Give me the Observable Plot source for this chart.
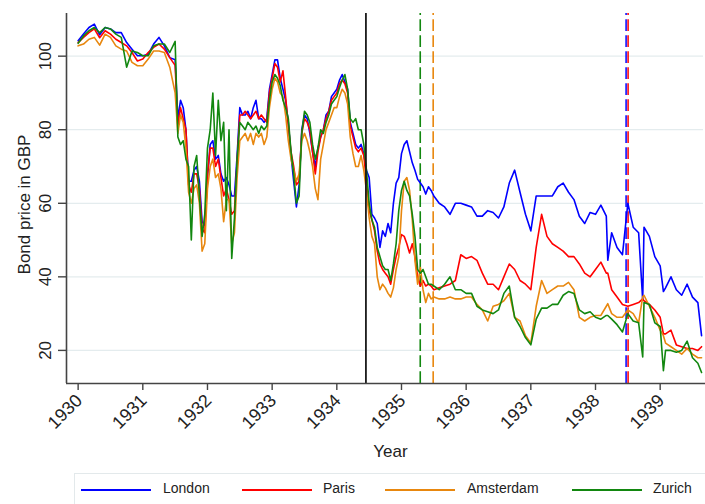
<!DOCTYPE html>
<html>
<head>
<meta charset="utf-8">
<script src="https://cdn.jsdelivr.net/npm/d3@7"></script>
<script src="https://cdn.jsdelivr.net/npm/@observablehq/plot@0.6"></script>
<style>
  html, body { margin: 0; padding: 0; background: #fff; }
  body { width: 705px; height: 504px; overflow: hidden; position: relative; font-family: "Liberation Sans", Arial, Helvetica, sans-serif; }
  #chart { position: absolute; left: 0; top: 0; }
  #legend { position: absolute; left: 74px; top: 473px; width: 660px; height: 40px; border: 1px solid #e3e9eb; box-sizing: border-box; }
  .item { position: absolute; top: 15px; height: 0; }
  .sw { position: absolute; top: 0; width: 70px; height: 0; border-top: 2px solid; }
  .lb { position: absolute; top: -9px; font-size: 14px; color: #222; white-space: nowrap; line-height: 16px; }
</style>
</head>
<body>
<div id="chart"></div>
<div id="legend"></div>
<script>
// Decimal years of the sampled observations
const dates = [
  1930.000, 1930.083, 1930.167, 1930.250, 1930.333, 1930.417, 1930.500, 1930.583, 1930.667, 1930.750, 1930.833, 1930.917,
  1931.000, 1931.083, 1931.167, 1931.250, 1931.333, 1931.417,
  1931.500, 1931.542, 1931.583, 1931.625, 1931.667, 1931.708, 1931.750, 1931.792, 1931.833, 1931.875, 1931.917, 1931.958,
  1932.000, 1932.042, 1932.083, 1932.125, 1932.167, 1932.208, 1932.250, 1932.292, 1932.333, 1932.375, 1932.417, 1932.458,
  1932.500, 1932.542, 1932.583, 1932.625, 1932.667, 1932.708, 1932.750, 1932.792, 1932.833, 1932.875, 1932.917, 1932.958,
  1933.000, 1933.042, 1933.083, 1933.125, 1933.167, 1933.208, 1933.250, 1933.292, 1933.333, 1933.375, 1933.417, 1933.458,
  1933.500, 1933.542, 1933.583, 1933.625, 1933.667, 1933.708, 1933.750, 1933.792, 1933.833, 1933.875, 1933.917, 1933.958,
  1934.000, 1934.042, 1934.083, 1934.125, 1934.167, 1934.208, 1934.250, 1934.292, 1934.333, 1934.375, 1934.417, 1934.458,
  1934.500, 1934.542, 1934.583, 1934.625, 1934.667, 1934.708, 1934.750, 1934.792, 1934.833, 1934.875, 1934.917, 1934.958,
  1935.000,
  1935.042, 1935.083, 1935.125, 1935.167, 1935.208, 1935.250, 1935.292, 1935.333, 1935.375, 1935.417, 1935.458, 1935.500,
  1935.583, 1935.667, 1935.750, 1935.833, 1935.917,
  1936.000, 1936.083, 1936.167, 1936.250, 1936.333, 1936.417, 1936.500, 1936.583, 1936.667, 1936.750, 1936.833, 1936.917,
  1937.000, 1937.083, 1937.167, 1937.250, 1937.333, 1937.417, 1937.500, 1937.583, 1937.667, 1937.750, 1937.833, 1937.917,
  1938.000, 1938.083, 1938.167, 1938.190, 1938.250, 1938.333, 1938.417, 1938.500, 1938.583, 1938.667, 1938.730, 1938.750, 1938.833, 1938.917,
  1939.000, 1939.050, 1939.083, 1939.167, 1939.250, 1939.333, 1939.417, 1939.500, 1939.583, 1939.640
];

const london = [
  104.2, 106, 107.8, 108.7, 105.8, 107.8, 107.4, 106.4, 106.4, 103.7, 101.9, 100.1,
  100.1, 100.5, 103.3, 105.1, 102.8, 99.6,
  99, 83, 88, 86, 80, 66, 66, 69, 70, 66, 55, 54,
  67, 76, 77, 72, 73, 68, 66, 67, 65, 62, 62, 73, 86, 84, 84, 85, 83, 86, 88, 83, 83, 82, 83, 91,
  95, 99, 99, 94, 91, 88, 82, 73, 66, 59, 65, 80, 84, 83, 79, 74, 70, 75, 78, 80, 84, 85, 89, 90,
  91, 93.5, 95, 93, 91, 82, 79, 76, 75, 76, 73.5, 69, 67, 57, 56, 54.5, 48, 52.5, 51, 54.5, 52, 60, 65.5, 67,
  73.5,
  76, 77, 74, 71, 69, 66.5, 65.5, 64.5, 62.5, 64.5, 63.5, 62,
  60, 59, 57, 60, 60,
  59.5, 59, 56.5, 56.5, 58, 57.5, 56, 59, 65.5, 69, 63, 57,
  52.5, 62, 62, 62, 62, 64.5, 65.5, 63, 61, 56.5, 54.5, 57.5,
  57, 59.5, 56.5, 44.5, 52, 48, 46, 60, 53.5, 52, 33.6, 53.5, 51, 45.5,
  43, 36, 37, 40, 36.5, 35, 38, 34.5, 33, 24
];

const paris = [
  103.7, 105.1, 106.4, 107.4, 105, 106.9, 106, 104.6, 103.7, 102.8, 101, 98.7,
  99.2, 101, 102.4, 103.3, 101.9, 99.6,
  97.5, 81, 86, 83, 80, 65, 63, 68, 68, 64, 53, 52,
  68, 75, 75, 70, 72, 67, 62, 64, 61, 57, 58, 71, 84, 84, 85, 84, 83, 84, 85, 83, 84, 83, 82, 90,
  94, 98, 97, 93, 96, 89, 81, 74, 70, 65, 66, 79, 83, 82, 80, 74, 68, 74, 78, 80, 83, 85, 88, 89,
  90, 92.5, 93.5, 92.5, 90, 81, 78, 75, 74, 75, 73, 66, 58, 55.5, 52.5, 47, 43.5, 42, 41, 40, 38, 42, 45.5, 48,
  51.5,
  51, 49, 46.5, 49, 45.5, 40, 37.5, 39, 37.5, 38, 37.5, 36.5,
  37, 37.5, 38, 39, 46,
  45, 45.5, 44.5, 41, 38, 38, 36.5, 40, 43.5, 42, 39, 38,
  36.5, 48, 57, 51, 49, 48, 47, 45.5, 45.5, 43.5, 41, 40,
  42, 44, 41, 41, 36.5, 34.5, 32.5, 32, 32.5, 33, 34, 33.5, 32.5, 31,
  29, 24.5, 24.5, 25.5, 21.5, 21, 20.5, 20.5, 20, 21
];

const amsterdam = [
  102.8, 103.3, 104.6, 105.1, 103, 106, 105.1, 102.8, 101.9, 101.4, 98.3, 97.4,
  97.4, 99.2, 101.4, 101.4, 101, 97,
  90, 79, 84, 82, 75, 63, 60, 64, 65, 60, 47, 49,
  64, 70, 72, 67, 68, 64, 55, 61, 61, 49, 52, 67, 77, 78, 79, 77, 79, 76, 79, 78, 79, 76, 78, 86,
  91, 94, 93, 90, 89, 84, 77, 72, 69, 66, 68, 77, 79, 77, 74, 70, 64, 61, 72, 76, 80, 82, 84, 86,
  86, 89, 91, 90, 87, 78, 73.5, 70, 70, 73, 69, 63.5, 56, 51, 49, 40, 36.5, 38, 37, 35.5, 34.5, 37, 42, 45.5,
  58,
  66, 67, 63.5, 55.5, 44.5, 38, 42.5, 36.5, 33, 35.5, 34, 34.5,
  34, 34, 34.5, 34, 34,
  34.5, 34.5, 32.5, 31, 28, 32, 32.5, 33.5, 35.5, 29, 28, 24,
  22, 32, 39, 35.5, 36.5, 37.5, 37.5, 38.5, 36.5, 29, 28, 29,
  29.5, 29.5, 32, 32.7, 30, 29, 29, 31, 30, 27.5, 34.6, 35, 32, 29,
  25.5, 24, 22, 21, 20, 19, 20.5, 19, 18, 18
];

const zurich = [
  103.5, 105.5, 106.9, 107.8, 106.4, 107.8, 107.4, 106, 105.1, 97, 101.4, 101,
  100.1, 100.1, 102.8, 103.3, 103.3, 101,
  104, 78, 76, 77, 72, 70, 50, 70, 73, 62, 51, 57,
  75, 80, 90, 73, 88, 77, 82, 58, 80, 45, 56, 72, 82, 81, 80, 82, 81, 80, 81, 79, 81, 80, 81, 88,
  93, 95, 94, 92, 88, 86, 83, 74, 68, 60, 62, 79, 85, 84, 82, 76, 72, 75, 80, 79, 82, 84, 87, 88,
  89, 91.5, 93.5, 95, 91, 83, 82, 83, 80, 80, 76, 69, 60, 55.5, 53.5, 48, 45.5, 43, 42, 42, 39, 43.5, 49, 58,
  63.5,
  66, 63.5, 62, 57, 51, 42, 41, 42, 40, 38, 38, 37.5,
  36.5, 38, 40, 36.5, 36.5,
  35.5, 35.5, 32, 31, 30.5, 30, 31, 35.5, 37.5, 29, 26.5, 23.5,
  21.5, 28.5, 31.5, 31.5, 32.5, 32.5, 35, 36, 35.5, 31, 30, 30.5,
  29, 28.5, 29.5, 29.5, 28.5, 27, 25, 30, 28, 27.5, 18.2, 33, 32.5, 27.5,
  26.5, 14.5, 20, 20, 19.5, 20, 22.5, 18, 16.5, 14
];

const cities = ["London", "Paris", "Amsterdam", "Zurich"];
const cityColors = ["#0000ff", "#ff0000", "#e8870e", "#12870f"];
const xTicks = [1930, 1931, 1932, 1933, 1934, 1935, 1936, 1937, 1938, 1939];
const yTicks = [20, 40, 60, 80, 100];
// Event lines (decimal year)
const eventSolid = [1934.45];
const eventZurich = [1935.29];
const eventAmsterdam = [1935.49];
const eventLondon = [1938.473];
const eventParis = [1938.504];

const xDomain = [1929.82, 1939.67];
const yDomain = [11, 111.6];

const valuesByCity = [london, paris, amsterdam, zurich];
const rows = cities.flatMap((c, k) => dates.map((d, i) => ({year: d, value: valuesByCity[k][i], city: c})));

const font = "'Liberation Sans', Arial, Helvetica, sans-serif";
const dash = "11.7,4.3";

const chart = Plot.plot({
  width: 705,
  height: 465,
  marginLeft: 66,
  marginRight: 2,
  marginTop: 13,
  marginBottom: 82,
  style: {fontFamily: font, background: "#fff", overflow: "visible"},
  x: {domain: xDomain, axis: null},
  y: {domain: yDomain, axis: null},
  color: {domain: cities, range: cityColors},
  marks: [
    Plot.ruleY(yTicks, {y: d => d, stroke: "#e4ecee", strokeWidth: 1.3}),
    Plot.ruleX(eventZurich, {x: d => d, y1: yDomain[0], y2: yDomain[1], stroke: cityColors[3], strokeWidth: 1.6, strokeDasharray: dash}),
    Plot.ruleX(eventAmsterdam, {x: d => d, y1: yDomain[0], y2: yDomain[1], stroke: cityColors[2], strokeWidth: 1.6, strokeDasharray: dash}),
    Plot.ruleX(eventLondon, {x: d => d, y1: yDomain[0], y2: yDomain[1], stroke: cityColors[0], strokeWidth: 1.5, strokeDasharray: dash}),
    Plot.ruleX(eventParis, {x: d => d, y1: yDomain[0], y2: yDomain[1], stroke: cityColors[1], strokeWidth: 1.5, strokeDasharray: dash}),
    Plot.line(rows, {x: "year", y: "value", z: "city", stroke: "city", strokeWidth: 1.6, strokeLinejoin: "round"}),
    Plot.ruleX(eventSolid, {x: d => d, y1: yDomain[0], y2: yDomain[1], stroke: "#1a1a1a", strokeWidth: 1.8}),
    Plot.ruleX([xDomain[0]], {x: d => d, stroke: "#444", strokeWidth: 1.6}),
    Plot.ruleY([yDomain[0]], {y: d => d, stroke: "#444", strokeWidth: 1.6, insetRight: -2}),
    Plot.axisX({ticks: xTicks, tickSize: 7, tickFormat: () => "", label: null, stroke: "#444", strokeWidth: 1.4}),
    Plot.axisY({ticks: yTicks, tickSize: 8, tickFormat: () => "", label: null, stroke: "#444", strokeWidth: 1.4}),
    Plot.text(xTicks, {x: d => d, y: yDomain[0], text: d => String(d), rotate: -45, textAnchor: "end", lineAnchor: "middle", dx: 1, dy: 14, fontSize: 18, fill: "#222"}),
    Plot.text(yTicks, {x: xDomain[0], y: d => d, text: d => String(d), rotate: -90, textAnchor: "middle", lineAnchor: "middle", dx: -21, fontSize: 17, fill: "#222"}),
    Plot.text(["Year"], {frameAnchor: "bottom", text: d => d, lineAnchor: "middle", dx: 5.5, dy: 68, fontSize: 17, fill: "#222"}),
    Plot.text(["Bond price in GBP"], {frameAnchor: "left", text: d => d, rotate: -90, lineAnchor: "middle", textAnchor: "middle", dx: -41.5, dy: 6, fontSize: 17, fill: "#222"})
  ]
});
document.getElementById("chart").appendChild(chart);

// Legend
const legend = document.getElementById("legend");
const swatchX = [6, 167, 310, 497];
const labelX = [88, 248, 392, 578];
cities.forEach((c, i) => {
  const item = document.createElement("div");
  item.className = "item";
  const sw = document.createElement("div");
  sw.className = "sw";
  sw.style.left = swatchX[i] + "px";
  sw.style.borderTopColor = cityColors[i];
  const lb = document.createElement("div");
  lb.className = "lb";
  lb.style.left = labelX[i] + "px";
  lb.textContent = c;
  item.appendChild(sw);
  item.appendChild(lb);
  legend.appendChild(item);
});
</script>
</body>
</html>
